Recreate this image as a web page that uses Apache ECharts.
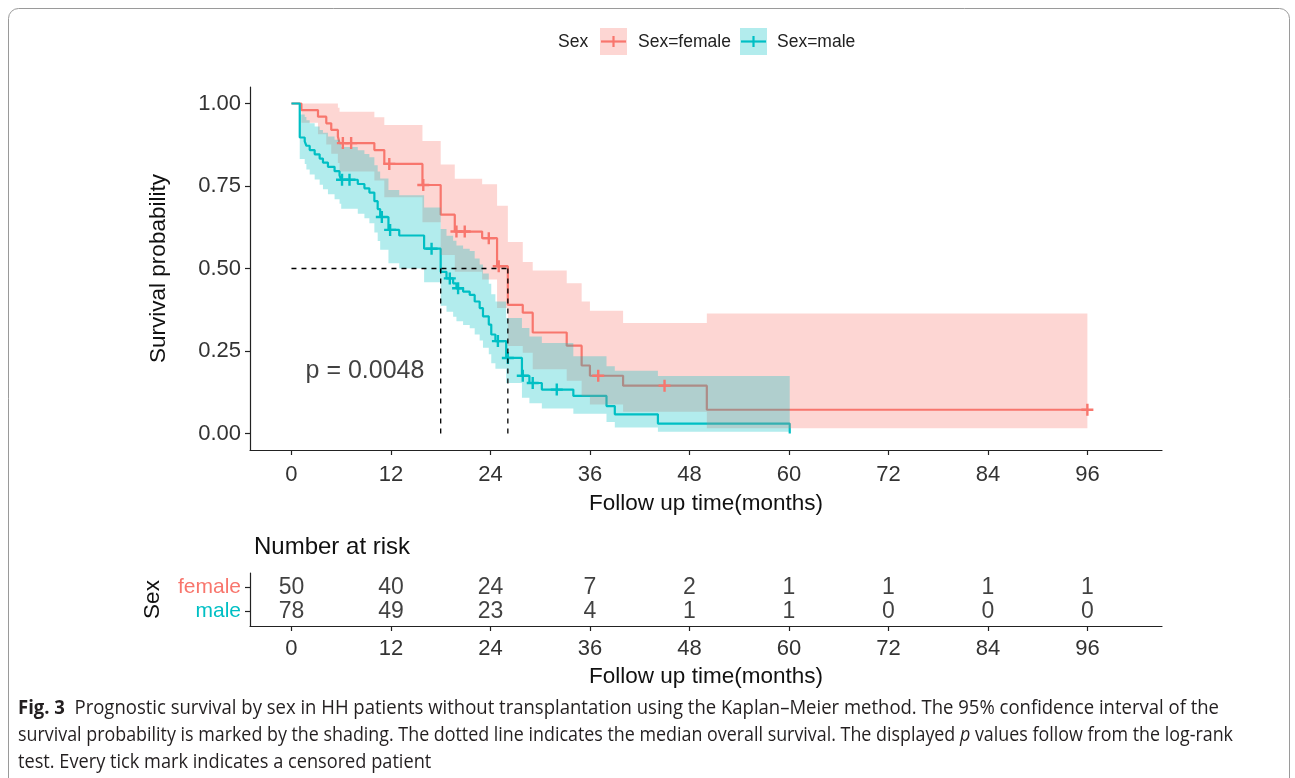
<!DOCTYPE html>
<html><head><meta charset="utf-8">
<script src="https://cdn.jsdelivr.net/npm/echarts@6/dist/echarts.min.js"></script>
<style>html,body{margin:0;padding:0;background:#fff;}#c{width:1295px;height:778px;}</style>
</head><body><div id="c"></div>
<script>
// ---------------- data ----------------
const xTicks = [0, 12, 24, 36, 48, 60, 72, 84, 96];
const yTicks = [0, 0.25, 0.5, 0.75, 1];

const femaleTime  = [0, 1.2, 3.2, 4.2, 4.8, 5.6, 5.8, 10.0, 11.2, 15.8, 18.0, 19.7, 23.0, 24.8, 26.1, 27.9, 29.1, 33.2, 35.0, 36.0, 40.0, 50.1];
const femaleSurv  = [1, .98, .96, .94, .92, .90, .88, .859, .817, .753, .663, .612, .592, .507, .390, .366, .306, .266, .206, .175, .145, .072];
const femaleLower = [1, .942, .907, .876, .848, .82, .794, .767, .716, .640, .541, .49, .467, .38, .265, .245, .195, .16, .113, .088, .066, .016];
const femaleUpper = [1, 1, 1, 1, 1, .987, .975, .958, .935, .886, .815, .772, .755, .69, .58, .52, .494, .455, .40, .372, .335, .364];
const femaleEnd = 96;
const femaleCensor = [6.2, 7.2, 11.8, 15.9, 19.9, 20.9, 23.8, 25.0, 37.0, 45.0, 96];

const maleTime  = [0, 1.0, 1.6, 1.8, 2.2, 2.8, 3.4, 3.8, 4.4, 5.2, 5.8, 6.0, 8.0, 8.8, 9.4, 10.0, 10.4, 10.7, 11.7, 13.0, 16.0, 18.0, 18.7, 19.5, 19.9, 20.7, 21.5, 22.1, 22.7, 23.1, 23.8, 24.1, 24.6, 25.9, 27.8, 28.7, 30.2, 34.0, 38.0, 39.0, 44.2, 60.1];
const maleSurv  = [1, .897, .885, .872, .859, .846, .833, .821, .808, .795, .782, .769, .756, .743, .730, .704, .680, .656, .617, .600, .560, .490, .470, .455, .440, .430, .420, .400, .380, .355, .330, .300, .280, .229, .175, .153, .133, .114, .083, .058, .030, 0];
const maleLower = [1, .832, .817, .80, .785, .77, .754, .74, .725, .71, .696, .681, .666, .652, .637, .609, .583, .557, .516, .50, .458, .387, .369, .354, .34, .329, .319, .30, .282, .26, .24, .213, .196, .153, .108, .092, .076, .06, .035, .018, .005, null];
const maleUpper = [1, .967, .959, .949, .94, .93, .92, .911, .90, .89, .878, .868, .858, .847, .837, .813, .794, .773, .738, .722, .685, .62, .599, .584, .57, .56, .553, .53, .512, .485, .454, .422, .40, .35, .32, .294, .274, .234, .204, .19, .174, null];
const maleEnd = 60.1;
const maleCensor = [6.1, 7.0, 10.9, 11.9, 16.9, 19.1, 20.1, 24.9, 26.1, 27.9, 29.1, 32.0];

const riskTimes  = [0, 12, 24, 36, 48, 60, 72, 84, 96];
const riskFemale = [50, 40, 24, 7, 2, 1, 1, 1, 1];
const riskMale   = [78, 49, 23, 4, 1, 1, 0, 0, 0];

const pValueText = 'p = 0.0048';

// ---------------- helpers ----------------
const RED = '#F8766D', TEAL = '#00BFC4';
const FONT = "'Liberation Sans', Arial, sans-serif";
const CAPFONT = "'Open Sans', 'Noto Sans', sans-serif";

function survAt(times, surv, t) { let s = surv[0]; for (let i = 0; i < times.length; i++) if (times[i] <= t) s = surv[i]; return s; }
function medianOf(times, surv) { for (let i = 0; i < times.length; i++) if (surv[i] <= 0.5) return times[i]; return null; }
function stepData(times, surv, end) {
  const d = times.map((t, i) => [t, surv[i]]);
  if (end > times[times.length - 1]) d.push([end, surv[surv.length - 1]]);
  return d;
}
function bandSeries(times, lo, up, end, fill, z) {
  return {
    type: 'custom', xAxisIndex: 0, yAxisIndex: 0, z: z, silent: true, clip: false,
    data: [[0, 0]],
    renderItem: function (params, api) {
      let last = -1;
      for (let i = 0; i < times.length; i++) if (up[i] != null && lo[i] != null) last = i;
      const nextT = i => (i + 1 < times.length ? times[i + 1] : end);
      const pts = [];
      for (let i = 0; i <= last; i++) { pts.push(api.coord([times[i], up[i]])); pts.push(api.coord([nextT(i), up[i]])); }
      for (let i = last; i >= 0; i--) { pts.push(api.coord([nextT(i), lo[i]])); pts.push(api.coord([times[i], lo[i]])); }
      return { type: 'polygon', shape: { points: pts }, style: { fill: fill } };
    }
  };
}
const PLUS = 'path://M4,0L6,0L6,4L10,4L10,6L6,6L6,10L4,10L4,6L0,6L0,4L4,4Z';

const femMed = medianOf(femaleTime, femaleSurv);
const maleMed = medianOf(maleTime, maleSurv);

// caption measuring
const mctx = document.createElement('canvas').getContext('2d');
function mw(font, s) { mctx.font = font; return mctx.measureText(s).width; }
const CAPSIZE = 20;
const cap1a = 'Fig. 3', cap1b = '  Prognostic survival by sex in HH patients without transplantation using the Kaplan\u2013Meier method. The 95% confidence interval of the';
const cap2a = 'survival probability is marked by the shading. The dotted line indicates the median overall survival. The displayed ', cap2p = 'p', cap2b = ' values follow from the log-rank';
const cap3 = 'test. Every tick mark indicates a censored patient';
const nat1 = mw('bold ' + CAPSIZE + 'px ' + CAPFONT, cap1a) + mw(CAPSIZE + 'px ' + CAPFONT, cap1b);
const nat2 = mw(CAPSIZE + 'px ' + CAPFONT, cap2a + cap2b) + mw('italic ' + CAPSIZE + 'px ' + CAPFONT, cap2p);
const sc1 = 1201 / nat1, sc2 = 1215 / nat2, sc3 = (sc1 + sc2) / 2;

const axisCommon = {
  axisLine: { show: true, onZero: false, lineStyle: { color: '#222', width: 1.2 } },
  splitLine: { show: false }
};

const option = {
  backgroundColor: '#fff',
  animation: false,
  textStyle: { fontFamily: FONT },
  grid: [
    { left: 250, top: 87, width: 912, height: 363 },
    { left: 250, top: 573, width: 912, height: 53 }
  ],
  xAxis: [
    Object.assign({}, axisCommon, {
      type: 'value', gridIndex: 0, min: -5, max: 105,
      axisTick: { show: true, length: 5, customValues: xTicks, lineStyle: { color: '#222', width: 1.2 } },
      axisLabel: { customValues: xTicks, fontSize: 22, color: '#333', margin: 14, fontFamily: FONT },
      name: 'Follow up time(months)', nameLocation: 'middle', nameGap: 42,
      nameTextStyle: { fontSize: 22.5, color: '#111', fontFamily: FONT }
    }),
    Object.assign({}, axisCommon, {
      type: 'value', gridIndex: 1, min: -5, max: 105,
      axisTick: { show: true, length: 5, customValues: xTicks, lineStyle: { color: '#222', width: 1.2 } },
      axisLabel: { customValues: xTicks, fontSize: 22, color: '#333', margin: 12, fontFamily: FONT },
      name: 'Follow up time(months)', nameLocation: 'middle', nameGap: 39,
      nameTextStyle: { fontSize: 22.5, color: '#111', fontFamily: FONT }
    })
  ],
  yAxis: [
    Object.assign({}, axisCommon, {
      type: 'value', gridIndex: 0, min: -0.05, max: 1.05,
      axisTick: { show: true, length: 5, customValues: yTicks, lineStyle: { color: '#222', width: 1.2 } },
      axisLabel: { customValues: yTicks, fontSize: 22, color: '#333', margin: 9, fontFamily: FONT, formatter: v => v.toFixed(2) },
      name: 'Survival probability', nameLocation: 'middle', nameGap: 80, nameRotate: 90,
      nameTextStyle: { fontSize: 22.5, color: '#111', fontFamily: FONT }
    }),
    Object.assign({}, axisCommon, {
      type: 'value', gridIndex: 1, min: 0.4, max: 2.6,
      axisTick: { show: true, length: 5, customValues: [1, 2], lineStyle: { color: '#222', width: 1.2 } },
      axisLabel: {
        customValues: [1, 2], margin: 9, fontFamily: FONT,
        formatter: v => (v === 2 ? '{f|female}' : '{m|male}'),
        rich: { f: { color: RED, fontSize: 21, fontFamily: FONT }, m: { color: TEAL, fontSize: 21, fontFamily: FONT } }
      },
      name: 'Sex', nameLocation: 'middle', nameGap: 86, nameRotate: 90,
      nameTextStyle: { fontSize: 22.5, color: '#111', fontFamily: FONT }
    })
  ],
  series: [
    { type: 'line', name: 'female', xAxisIndex: 0, yAxisIndex: 0, step: 'end', showSymbol: false, z: 2, silent: true,
      lineStyle: { color: RED, width: 2.2 }, data: stepData(femaleTime, femaleSurv, femaleEnd) },
    { type: 'line', name: 'male', xAxisIndex: 0, yAxisIndex: 0, step: 'end', showSymbol: false, z: 2, silent: true,
      lineStyle: { color: TEAL, width: 2.2 }, data: stepData(maleTime, maleSurv, maleEnd) },
    bandSeries(femaleTime, femaleLower, femaleUpper, femaleEnd, 'rgba(248,118,109,0.3)', 3),
    bandSeries(maleTime, maleLower, maleUpper, maleEnd, 'rgba(0,191,196,0.3)', 4),
    { type: 'scatter', xAxisIndex: 0, yAxisIndex: 0, z: 5, symbol: PLUS, symbolSize: 12, silent: true,
      itemStyle: { color: RED, opacity: 1 }, data: femaleCensor.map(t => [t, survAt(femaleTime, femaleSurv, t)]) },
    { type: 'scatter', xAxisIndex: 0, yAxisIndex: 0, z: 5, symbol: PLUS, symbolSize: 12, silent: true,
      itemStyle: { color: TEAL, opacity: 1 }, data: maleCensor.map(t => [t, survAt(maleTime, maleSurv, t)]) },
    { type: 'line', xAxisIndex: 0, yAxisIndex: 0, z: 6, showSymbol: false, silent: true,
      lineStyle: { color: '#000', width: 1.3, type: [5, 5] }, data: [[0, 0.5], [femMed, 0.5]] },
    { type: 'line', xAxisIndex: 0, yAxisIndex: 0, z: 6, showSymbol: false, silent: true,
      lineStyle: { color: '#000', width: 1.3, type: [5, 5] }, data: [[maleMed, 0.5], [maleMed, 0]] },
    { type: 'line', xAxisIndex: 0, yAxisIndex: 0, z: 6, showSymbol: false, silent: true,
      lineStyle: { color: '#000', width: 1.3, type: [5, 5] }, data: [[femMed, 0.5], [femMed, 0]] },
    { type: 'scatter', xAxisIndex: 0, yAxisIndex: 0, z: 7, symbolSize: 0, silent: true, data: [[1.7, 0.19]],
      label: { show: true, position: 'right', distance: 0, formatter: pValueText, fontSize: 25, color: '#111', fontFamily: FONT } },
    { type: 'scatter', xAxisIndex: 1, yAxisIndex: 1, symbolSize: 0, silent: true,
      data: riskTimes.map((t, i) => [t, 2, riskFemale[i]]),
      label: { show: true, position: 'inside', formatter: p => String(p.value[2]), fontSize: 23, color: '#111', fontFamily: FONT } },
    { type: 'scatter', xAxisIndex: 1, yAxisIndex: 1, symbolSize: 0, silent: true,
      data: riskTimes.map((t, i) => [t, 1, riskMale[i]]),
      label: { show: true, position: 'inside', formatter: p => String(p.value[2]), fontSize: 23, color: '#111', fontFamily: FONT } }
  ],
  graphic: [
    { type: 'rect', shape: { x: 8.5, y: 8.5, width: 1281, height: 820, r: 10 }, style: { fill: 'none', stroke: '#9a9a9a', lineWidth: 1 }, z: 0 },
    // legend
    { type: 'text', x: 558, y: 42, style: { text: 'Sex', fontSize: 17.5, fontFamily: FONT, fill: '#222', verticalAlign: 'middle' } },
    { type: 'rect', shape: { x: 600, y: 28, width: 27, height: 27 }, style: { fill: 'rgb(253,214,211)' } },
    { type: 'line', shape: { x1: 601, y1: 41.5, x2: 626, y2: 41.5 }, style: { stroke: RED, lineWidth: 2.2 } },
    { type: 'line', shape: { x1: 613.5, y1: 36, x2: 613.5, y2: 47 }, style: { stroke: RED, lineWidth: 2.2 } },
    { type: 'text', x: 638, y: 42, style: { text: 'Sex=female', fontSize: 17.5, fontFamily: FONT, fill: '#222', verticalAlign: 'middle' } },
    { type: 'rect', shape: { x: 740, y: 28, width: 27, height: 27 }, style: { fill: 'rgb(178,236,237)' } },
    { type: 'line', shape: { x1: 741, y1: 41.5, x2: 766, y2: 41.5 }, style: { stroke: TEAL, lineWidth: 2.2 } },
    { type: 'line', shape: { x1: 753.5, y1: 36, x2: 753.5, y2: 47 }, style: { stroke: TEAL, lineWidth: 2.2 } },
    { type: 'text', x: 777, y: 42, style: { text: 'Sex=male', fontSize: 17.5, fontFamily: FONT, fill: '#222', verticalAlign: 'middle' } },
    // risk table title
    { type: 'text', x: 254, y: 547, style: { text: 'Number at risk', fontSize: 24, fontFamily: FONT, fill: '#111', verticalAlign: 'middle' } },
    // caption
    { type: 'text', x: 18, y: 708, scaleX: sc1, style: { text: '{b|' + cap1a + '}' + cap1b, fontSize: CAPSIZE, fontFamily: CAPFONT, fill: '#231f20', verticalAlign: 'middle',
      rich: { b: { fontWeight: 'bold', fontSize: CAPSIZE, fontFamily: CAPFONT, fill: '#231f20' } } } },
    { type: 'text', x: 18, y: 735, scaleX: sc2, style: { text: cap2a + '{i|' + cap2p + '}' + cap2b, fontSize: CAPSIZE, fontFamily: CAPFONT, fill: '#231f20', verticalAlign: 'middle',
      rich: { i: { fontStyle: 'italic', fontSize: CAPSIZE, fontFamily: CAPFONT, fill: '#231f20' } } } },
    { type: 'text', x: 18, y: 762, scaleX: sc3, style: { text: cap3, fontSize: CAPSIZE, fontFamily: CAPFONT, fill: '#231f20', verticalAlign: 'middle' } }
  ]
};
const chart = echarts.init(document.getElementById('c'));
chart.setOption(option);
</script>
</body></html>
